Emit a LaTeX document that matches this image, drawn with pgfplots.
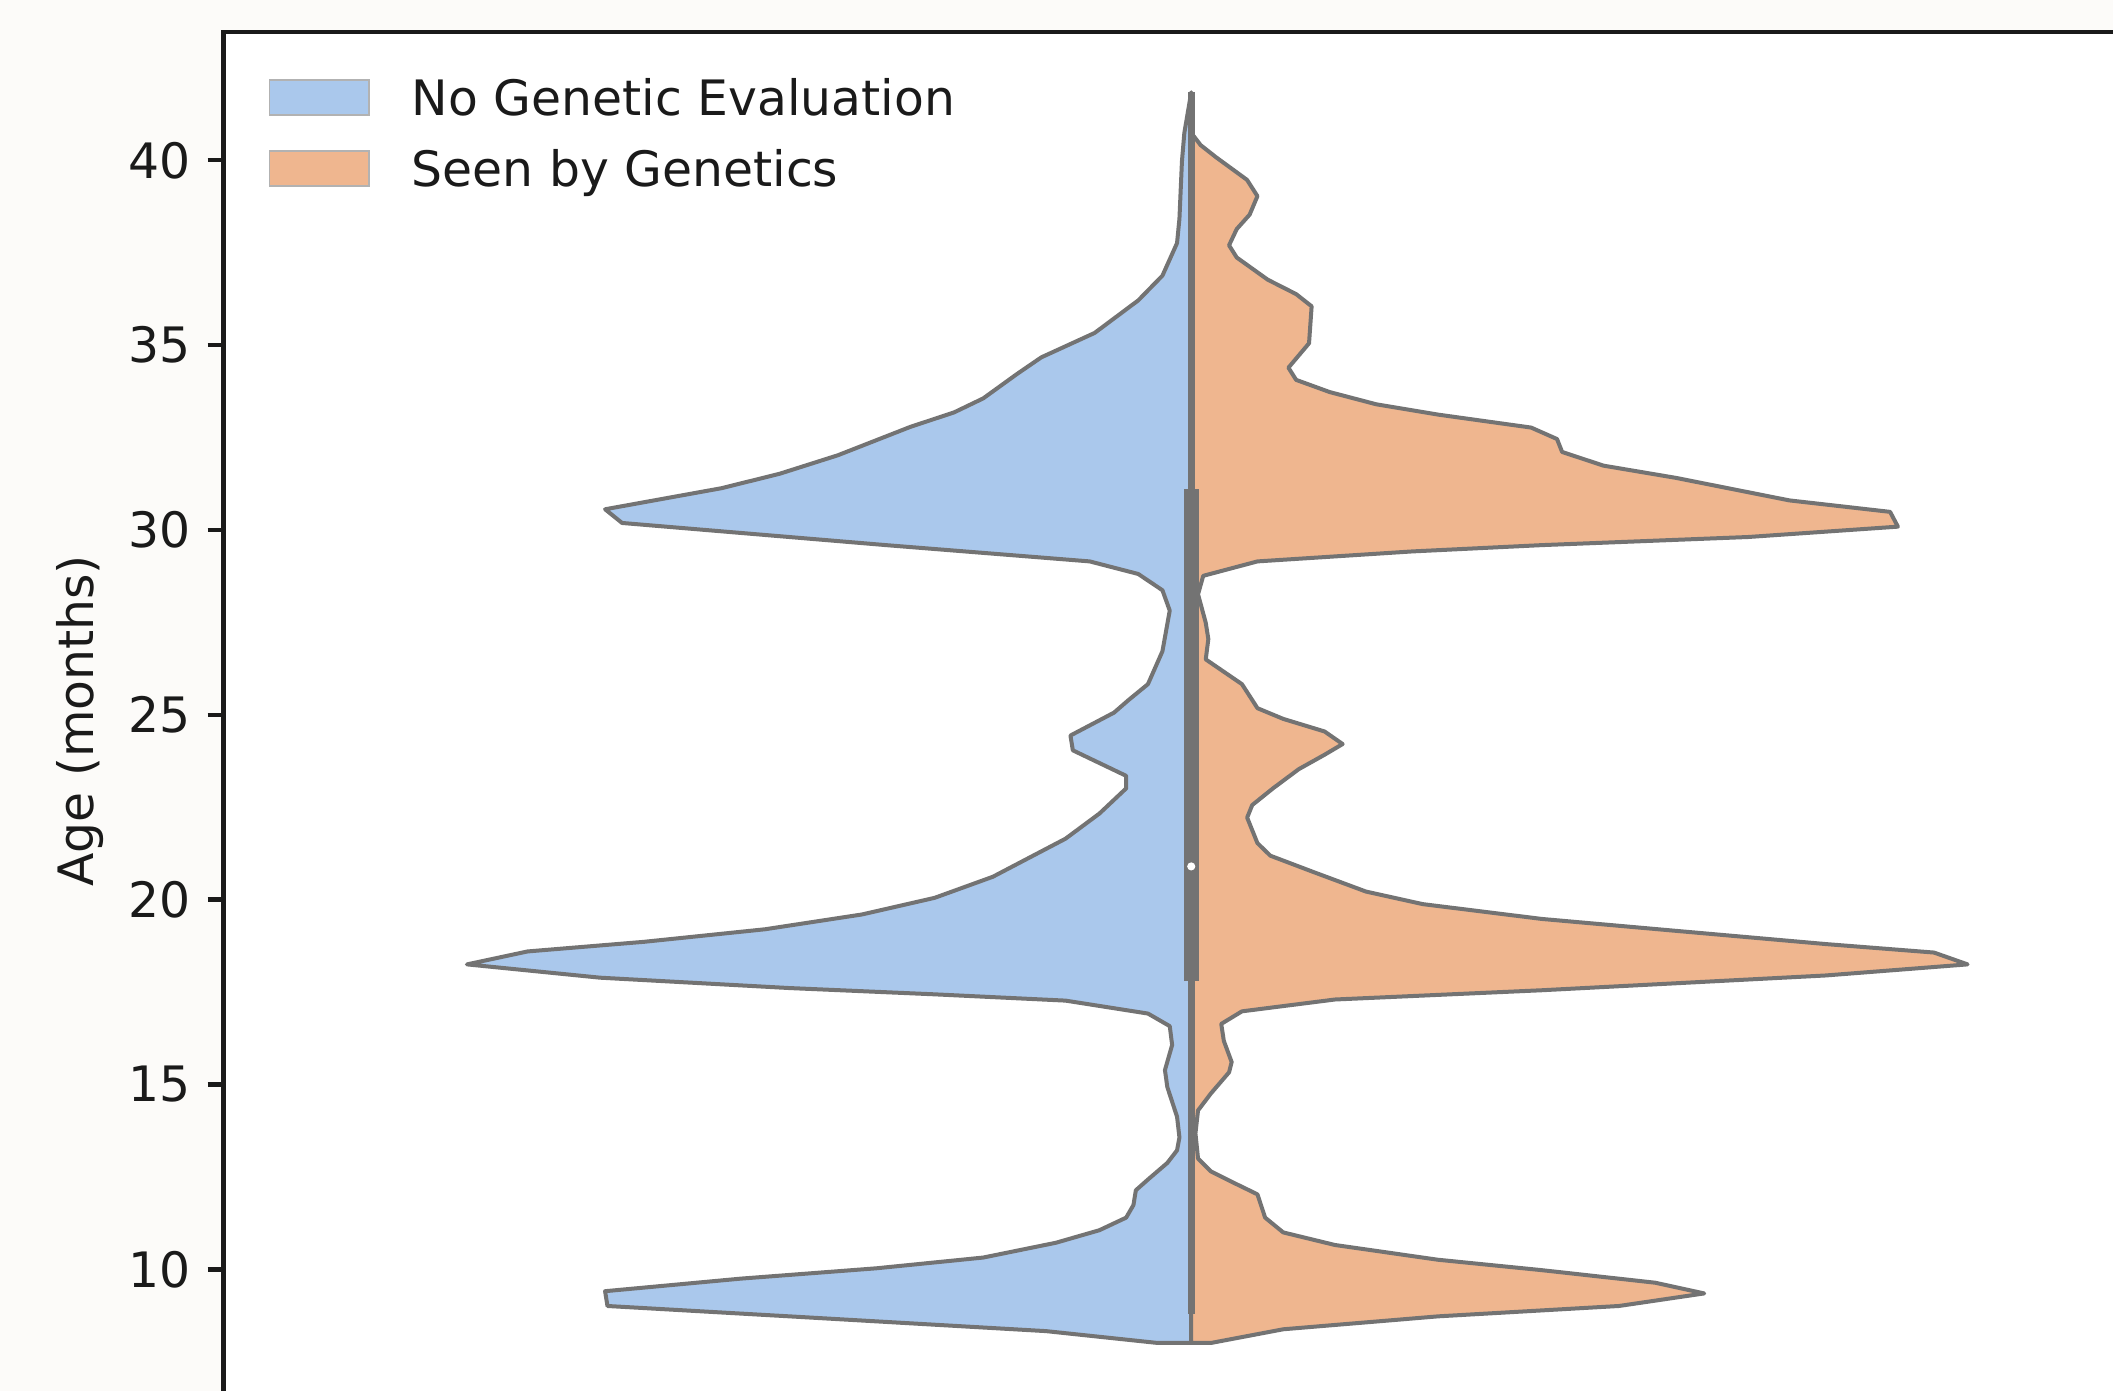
\documentclass[border=0pt]{standalone}
\usepackage{pgfplots}
\pgfplotsset{compat=1.18}
\usepackage{fontspec}
\setmainfont{DejaVu Sans}
\definecolor{vblue}{HTML}{AAC8EC}
\definecolor{vorange}{HTML}{EFB68F}
\definecolor{vgray}{HTML}{737373}
\definecolor{bgc}{HTML}{FCFBF9}
\definecolor{txt}{HTML}{1A1A1A}
\newcommand{\fs}{\fontsize{12.2pt}{14.6pt}\selectfont}
\begin{document}
\begin{tikzpicture}
\fill[bgc] (0,0) rectangle (528.25pt,347.75pt);
\path[use as bounding box] (0,0) rectangle (528.25pt,347.75pt);
\begin{axis}[
  at={(55.925pt,0pt)}, anchor=south west, scale only axis,
  width=472.3pt, height=339.7pt,
  xmin=-967.6, xmax=921.7, ymin=6.711, ymax=43.465,
  axis x line*=top, axis y line*=left,
  axis background/.style={fill=white},
  xtick=\empty,
  ytick={10,15,20,25,30,35,40},
  tick align=outside, major tick length=4pt,
  every tick/.style={txt, line width=1.1pt},
  axis line style={txt, line width=1.1pt, line cap=rect},
  /pgf/number format/assume math mode=true,
  yticklabel style={font=\fs, text=txt, inner sep=0pt, xshift=-4.2pt},
  ylabel={Age (months)},
  ylabel style={at={(axis description cs:-0.0761,0.4931)}, anchor=center, font=\fs, text=txt},
]
% No Genetic Evaluation (left half)
\addplot[fill=vblue, draw=vgray, line width=1pt, line join=round] coordinates {
(0,41.84) (-6.9,40.74) (-9.3,39.97) (-11.8,38.42) (-14.2,37.76) (-28.8,36.88)
(-53.0,36.21) (-96.6,35.33) (-149.9,34.67) (-174.2,34.22) (-208.0,33.56)
(-237.2,33.18) (-280.8,32.79) (-353.5,32.02) (-411.7,31.52) (-469.8,31.13)
(-586.2,30.56) (-569.2,30.19) (-450.5,29.92) (-305.0,29.59) (-101.5,29.15)
(-53.0,28.81) (-28.8,28.37) (-21.5,27.82) (-28.8,26.72) (-43.3,25.83)
(-62.7,25.40) (-77.2,25.06) (-120.8,24.44) (-118.4,24.04) (-65.1,23.35)
(-65.1,23.01) (-91.8,22.33) (-125.7,21.65) (-198.4,20.62) (-256.6,20.05)
(-329.3,19.60) (-426.2,19.20) (-547.4,18.86) (-663.7,18.60) (-724.3,18.25)
(-591.0,17.89) (-402.0,17.61) (-256.6,17.44) (-125.7,17.27) (-43.3,16.92)
(-21.5,16.58) (-19.1,16.07) (-26.3,15.39) (-23.9,14.93) (-14.2,14.13)
(-11.8,13.57) (-14.2,13.22) (-23.9,12.88) (-43.3,12.43) (-55.4,12.14)
(-57.8,11.74) (-65.1,11.40) (-91.8,11.06) (-135.4,10.72) (-208.1,10.32)
(-314.7,10.03) (-450.5,9.75) (-586.2,9.41) (-583.8,9.01) (-402.0,8.73)
(-145.1,8.33) (-33.6,8.01) (0,8.01)
} -- cycle;
% Seen by Genetics (right half)
\addplot[fill=vorange, draw=vgray, line width=1pt, line join=round] coordinates {
(0,40.74) (9.4,40.41) (24.9,40.08) (55.8,39.47) (66.2,39.03) (58.4,38.53)
(45.5,38.14) (37.8,37.70) (45.5,37.37) (76.5,36.77) (104.9,36.38) (120.4,36.05)
(117.8,35.05) (97.2,34.39) (104.9,34.06) (138.5,33.73) (185.0,33.40)
(247.0,33.12) (339.9,32.77) (365.8,32.46) (370.9,32.11) (412.3,31.74)
(484.6,31.41) (598.2,30.80) (698.9,30.49) (706.7,30.09) (556.9,29.81)
(350.3,29.59) (221.1,29.42) (66.2,29.15) (12.0,28.76) (6.8,28.26)
(14.5,27.49) (17.1,27.05) (14.5,26.50) (50.7,25.83) (61.0,25.40)
(66.2,25.18) (92.0,24.89) (133.3,24.55) (151.4,24.21) (133.3,23.92)
(107.5,23.53) (81.7,23.01) (61.0,22.56) (55.9,22.22) (66.2,21.53)
(79.1,21.19) (123.0,20.74) (174.7,20.22) (231.5,19.88) (350.3,19.48)
(479.4,19.17) (634.4,18.80) (742.8,18.57) (776.4,18.25) (634.4,17.95)
(350.3,17.55) (143.7,17.30) (50.7,16.98) (30.0,16.64) (32.6,16.18)
(40.4,15.61) (37.8,15.33) (19.7,14.76) (6.8,14.30) (4.2,13.68) (6.8,13.00)
(19.7,12.65) (40.4,12.37) (66.2,12.03) (73.9,11.40) (92.0,11.00)
(143.7,10.66) (247.0,10.26) (350.3,9.98) (463.9,9.64) (513.0,9.35)
(427.7,9.01) (247.0,8.73) (92.0,8.38) (19.7,8.01) (0,8.01)
} -- cycle;
% inner box
\addplot[vgray, line width=1.7pt] coordinates {(0,8.8) (0,41.84)};
\addplot[vgray, line width=3.8pt] coordinates {(0,17.8) (0,31.1)};
\addplot[only marks, mark=*, mark size=0.8pt, white] coordinates {(0,20.9)};
\end{axis}
% legend
\filldraw[fill=vblue, draw=vgray!55, line width=0.4pt] (67.4pt,319pt) rectangle (92.3pt,327.75pt);
\filldraw[fill=vorange, draw=vgray!55, line width=0.4pt] (67.4pt,301.25pt) rectangle (92.3pt,310pt);
\node[anchor=base west, inner sep=0pt, font=\fs, text=txt] at (102.75pt,318.75pt) {No Genetic Evaluation};
\node[anchor=base west, inner sep=0pt, font=\fs, text=txt] at (102.75pt,301pt) {Seen by Genetics};
\end{tikzpicture}
\end{document}
